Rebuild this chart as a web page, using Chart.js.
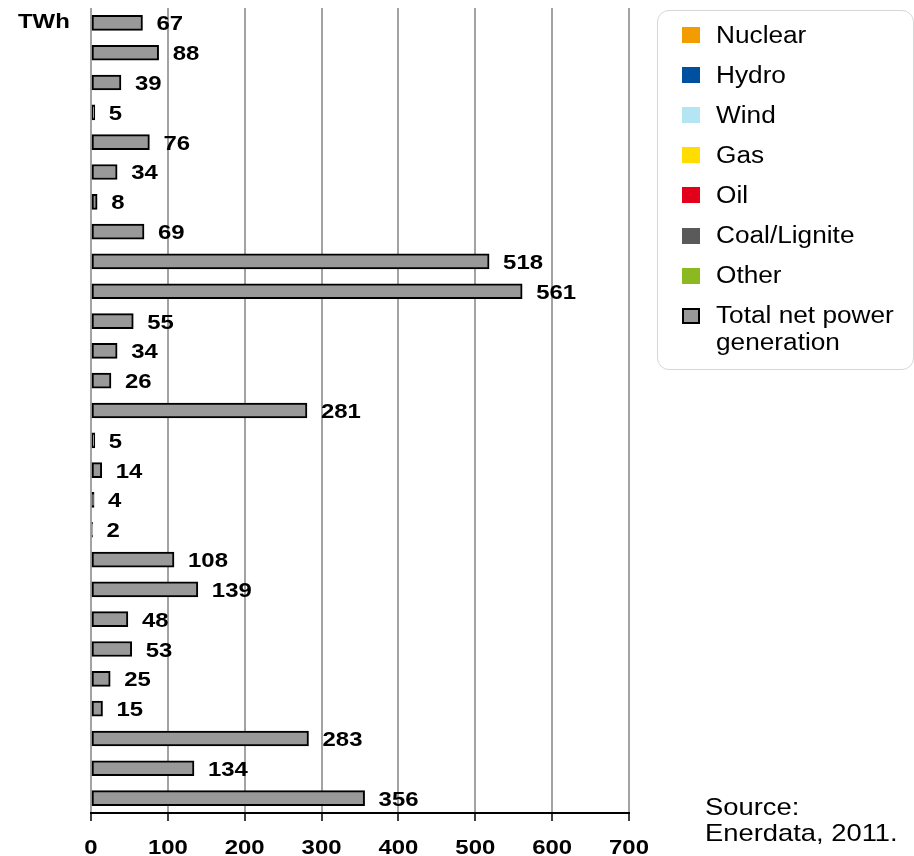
<!DOCTYPE html>
<html>
<head>
<meta charset="utf-8">
<title>Total net power generation, TWh</title>
<script src="https://cdn.jsdelivr.net/npm/chart.js@4.4.1/dist/chart.umd.min.js"></script>
<style>
  html, body { margin: 0; padding: 0; background: #ffffff; }
  #wrap { position: relative; width: 914px; height: 856px; overflow: hidden;
          font-family: "Liberation Sans", Arial, sans-serif; color: #000; }
  #chart-box { position: absolute; left: 0; top: 0; width: 914px; height: 856px; }
  .wide { display: inline-block; transform: scaleX(1.14); transform-origin: 0 50%; white-space: nowrap; }
  #unit { position: absolute; left: 18px; top: 9px; font-weight: bold; font-size: 21px; line-height: 24px; }
  #legend { position: absolute; left: 657px; top: 10px; width: 257px; height: 360px;
            border: 1px solid #d6d6d6; border-radius: 12px; box-sizing: border-box; }
  .swatch { position: absolute; left: 24px; width: 18px; height: 16px; box-sizing: border-box; }
  .label { position: absolute; left: 58px; font-size: 23px; line-height: 27px; }
  #source { position: absolute; left: 705px; top: 794px; font-size: 24px; line-height: 26px; }
</style>
</head>
<body>
<div id="wrap">
  <div id="chart-box"><canvas id="chart"></canvas></div>
  <div id="unit"><span class="wide">TWh</span></div>
  <div id="legend"></div>
  <div id="source"><div><span class="wide">Source:</span></div><div><span class="wide">Enerdata, 2011.</span></div></div>
</div>
<script>
// EU-27 member states, top to bottom
const countries = [
  "Austria", "Belgium", "Bulgaria", "Cyprus", "Czech Republic", "Denmark", "Estonia",
  "Finland", "France", "Germany", "Greece", "Hungary", "Ireland", "Italy", "Latvia",
  "Lithuania", "Luxembourg", "Malta", "Netherlands", "Poland", "Portugal", "Romania",
  "Slovakia", "Slovenia", "Spain", "Sweden", "United Kingdom"
];

// Total net power generation, TWh
const totalGeneration = [
  67, 88, 39, 5, 76, 34, 8, 69, 518, 561, 55, 34, 26, 281, 5,
  14, 4, 2, 108, 139, 48, 53, 25, 15, 283, 134, 356
];

// Value axis ticks, TWh
const tickValues = [0, 100, 200, 300, 400, 500, 600, 700];

// Legend entries
const legendNames = ["Nuclear", "Hydro", "Wind", "Gas", "Oil", "Coal/Lignite", "Other", "Total net power\ngeneration"];
const legendColors = ["#f39c00", "#0050a0", "#b3e5f3", "#ffdd00", "#e2001a", "#5a5a5a", "#8cb820", "#999999"];

const TEXT_STRETCH = 1.14;
const FONT_FAMILY = '"Liberation Sans", Arial, sans-serif';

// Build the legend box
const legendEl = document.getElementById('legend');
legendNames.forEach((name, i) => {
  const centre = 24 + i * 40.1;
  const sw = document.createElement('div');
  sw.className = 'swatch';
  sw.style.top = (centre - 8) + 'px';
  sw.style.background = legendColors[i];
  if (i === legendNames.length - 1) sw.style.border = '2px solid #000';
  legendEl.appendChild(sw);
  name.split('\n').forEach((line, j) => {
    const lab = document.createElement('div');
    lab.className = 'label';
    lab.style.top = (centre - 13.5 + j * 27) + 'px';
    const span = document.createElement('span');
    span.className = 'wide';
    span.textContent = line;
    lab.appendChild(span);
    legendEl.appendChild(lab);
  });
});

// Value labels to the right of each bar
const valueLabels = {
  id: 'valueLabels',
  afterDatasetsDraw(chart) {
    const ctx = chart.ctx;
    const meta = chart.getDatasetMeta(0);
    const values = chart.data.datasets[0].data;
    ctx.save();
    ctx.font = 'bold 21px ' + FONT_FAMILY;
    ctx.fillStyle = '#000';
    ctx.textAlign = 'left';
    ctx.textBaseline = 'alphabetic';
    meta.data.forEach((bar, i) => {
      ctx.save();
      ctx.translate(bar.x + 14, bar.y + 7.5);
      ctx.scale(TEXT_STRETCH, 1);
      ctx.fillText(String(values[i]), 0, 0);
      ctx.restore();
    });
    ctx.restore();
  }
};

// Value axis tick labels, drawn in the same stretched bold face
const axisLabels = {
  id: 'axisLabels',
  afterDraw(chart) {
    const ctx = chart.ctx;
    const xs = chart.scales.x;
    const y = chart.chartArea.bottom + 33 + 7.5;
    ctx.save();
    ctx.font = 'bold 21px ' + FONT_FAMILY;
    ctx.fillStyle = '#000';
    ctx.textBaseline = 'alphabetic';
    tickValues.forEach(v => {
      const text = String(v);
      const w = ctx.measureText(text).width * TEXT_STRETCH;
      ctx.save();
      ctx.translate(xs.getPixelForValue(v) - w / 2, y);
      ctx.scale(TEXT_STRETCH, 1);
      ctx.fillText(text, 0, 0);
      ctx.restore();
    });
    ctx.restore();
  }
};

new Chart(document.getElementById('chart'), {
  type: 'bar',
  data: {
    labels: countries,
    datasets: [{
      label: 'Total net power generation',
      data: totalGeneration,
      backgroundColor: '#999999',
      borderColor: '#000000',
      borderWidth: 2,
      borderSkipped: false,
      barThickness: 15
    }]
  },
  options: {
    indexAxis: 'y',
    responsive: true,
    maintainAspectRatio: false,
    animation: false,
    layout: { padding: { left: 91, right: 285, top: 8, bottom: 35 } },
    plugins: { legend: { display: false }, tooltip: { enabled: false } },
    scales: {
      x: {
        min: tickValues[0],
        max: tickValues[tickValues.length - 1],
        ticks: { stepSize: 100, display: false },
        grid: { color: '#a3a3a3', lineWidth: 2, tickColor: '#000', tickWidth: 1.5, tickLength: 8, drawTicks: true },
        border: { display: true, color: '#000', width: 2 }
      },
      y: { display: false }
    }
  },
  plugins: [valueLabels, axisLabels]
});
</script>
</body>
</html>
